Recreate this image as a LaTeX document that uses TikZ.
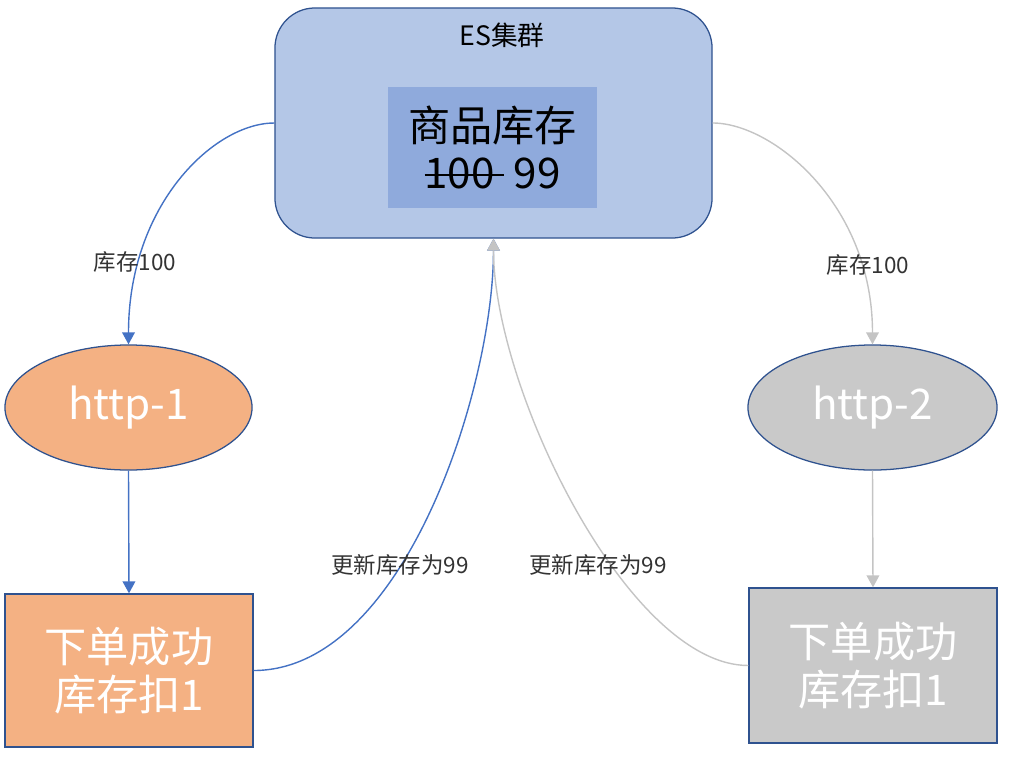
\documentclass[tikz,border=0pt]{standalone}
\usepackage{fontspec}
\setmainfont{Noto Sans CJK SC}
\usetikzlibrary{arrows.meta,shapes.geometric}
\definecolor{esfill}{HTML}{B4C7E7}
\definecolor{stockfill}{HTML}{8FAADC}
\definecolor{edge}{HTML}{2F528F}
\definecolor{orangefill}{HTML}{F4B183}
\definecolor{grayfill}{HTML}{C9C9C9}
\definecolor{blueline}{HTML}{4472C4}
\definecolor{grayline}{HTML}{C4C4C4}
\newcommand\strk[1]{\setbox0\hbox{#1}\rlap{\rule[0.3em]{\wd0}{0.05em}}\box0}
\begin{document}
\begin{tikzpicture}[x=0.025cm,y=-0.025cm,>={Triangle[length=8.5pt,width=9pt]},
  box/.style={draw=edge,line width=0.9pt,inner sep=0pt},
  big/.style={font=\fontsize{30}{34}\selectfont,align=center},
  lbl/.style={font=\fontsize{16}{19}\selectfont,text=black!80},
  bl/.style={->,color=blueline,line width=1pt},
  gl/.style={->,color=grayline,line width=1pt}]
\useasboundingbox (0,0) rectangle (1013,757);
\node[box,fill=esfill,rounded corners=1cm,minimum width=10.925cm,minimum height=5.75cm](es) at (493.5,123){};
\node[font=\fontsize{19}{22}\selectfont](title) at (502,35){ES集群};
\node[fill=stockfill,minimum width=5.225cm,minimum height=3.025cm,inner sep=0pt,big](stock) at (492.5,147.5){商品库存\\\strk{100\ }\ 99};
\node[ellipse,box,fill=orangefill,minimum width=6.175cm,minimum height=3.125cm,big,text=white](h1) at (128.5,407.5){http-1};
\node[ellipse,box,fill=grayfill,minimum width=6.225cm,minimum height=3.125cm,big,text=white](h2) at (872.5,407.5){http-2};
\node[box,fill=orangefill,minimum width=6.2cm,minimum height=3.825cm,big,text=white](ok1) at (129,670.5){下单成功\\库存扣1};
\node[box,fill=grayfill,minimum width=6.2cm,minimum height=3.875cm,big,text=white](ok2) at (873,665.5){下单成功\\库存扣1};
\draw[bl](es.west) .. controls +(-60,0) and +(0,-140) .. (h1.north);
\draw[gl](es.east) .. controls +(60,0) and +(0,-140) .. (h2.north);
\draw[bl](h1.south)--(ok1.north);
\draw[gl](h2.south)--(ok2.north);
\draw[bl](ok1.east) .. controls +(150,0) and +(0,150) .. (es.south);
\draw[gl](ok2.west) .. controls +(-120,0) and +(0,150) .. (es.south);
\node[lbl](l1) at (135,262){库存100};
\node[lbl](l2) at (868,265){库存100};
\node[lbl](l3) at (400,565){更新库存为99};
\node[lbl](l4) at (598,565){更新库存为99};
\end{tikzpicture}
\end{document}
